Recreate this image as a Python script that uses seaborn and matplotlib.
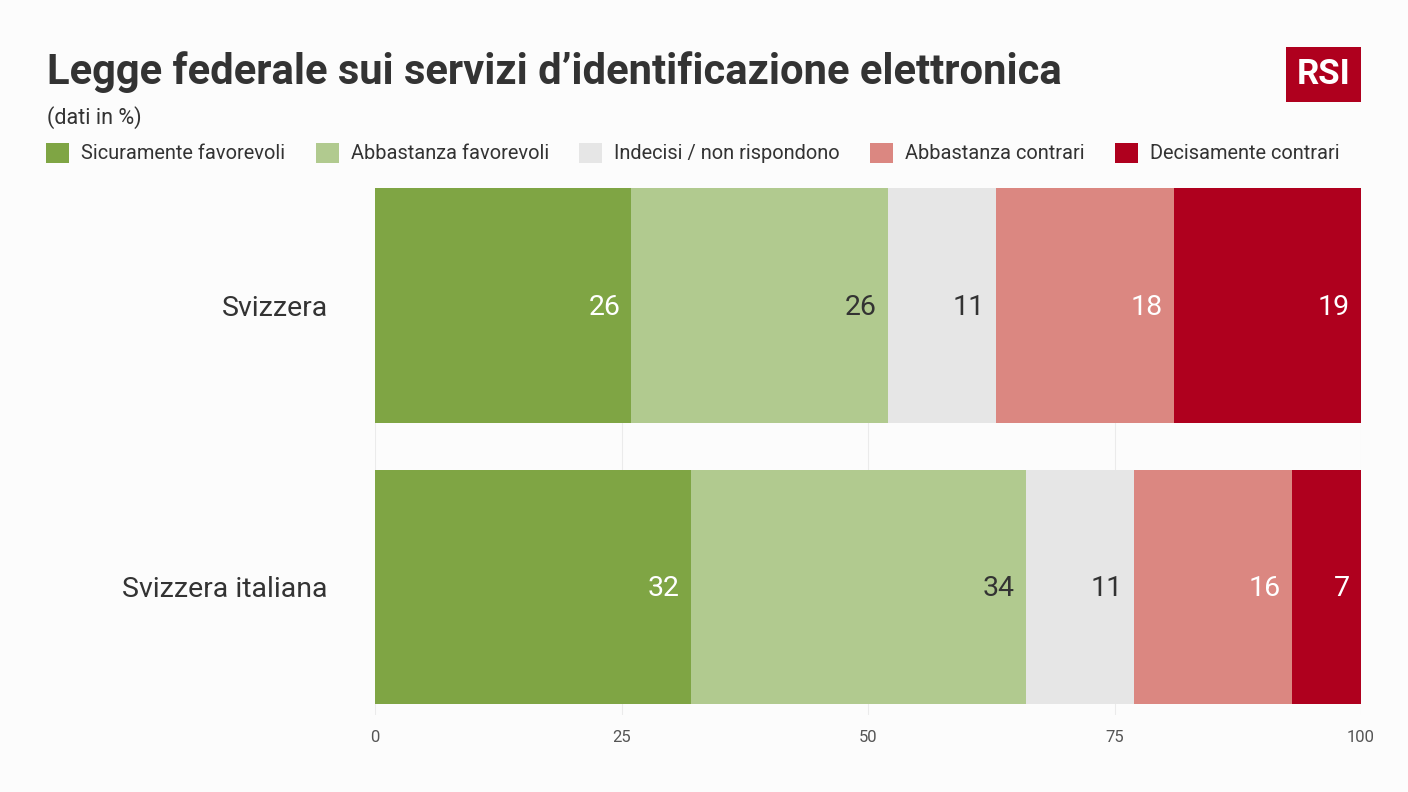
import pandas as pd
import numpy as np
import matplotlib.pyplot as plt
import seaborn as sns
from matplotlib.patches import Rectangle

# --- 1. Configuration & Setup ---
BG_COLOR = "#FCFCFC"
TEXT_COLOR = "#333333"

# Set visual style
sns.set_theme(style="whitegrid")
plt.rcParams['font.family'] = ['Roboto', 'DejaVu Sans']
plt.rcParams['figure.facecolor'] = BG_COLOR
plt.rcParams['axes.facecolor'] = BG_COLOR

# --- 2. Data ---
df = pd.DataFrame({
    'area': ['Svizzera', 'Svizzera italiana'],
    'Sicuramente favorevoli': [26, 32],
    'Abbastanza favorevoli': [26, 34],
    'Indecisi / non rispondono': [11, 11],
    'Abbastanza contrari': [18, 16],
    'Decisamente contrari': [19, 7],
})
answers = ['Sicuramente favorevoli', 'Abbastanza favorevoli', 'Indecisi / non rispondono',
           'Abbastanza contrari', 'Decisamente contrari']
colors = ['#7FA544', '#B1CA8F', '#E6E6E6', '#DB8781', '#AF001E']
label_colors = ['white', TEXT_COLOR, TEXT_COLOR, 'white', 'white']

# Running totals, the bars are drawn from the longest to the shortest
cum = df[answers].cumsum(axis=1)

# --- 3. Stacked Bars ---
plt.figure(figsize=(14.08, 7.92), dpi=100)
ax = plt.axes([375 / 1408, 1 - 715 / 792, 986 / 1408, 527 / 792])
for i in range(len(answers) - 1, -1, -1):
    sns.barplot(x=cum[answers[i]], y=df['area'], color=colors[i], width=0.833,
                saturation=1, label=answers[i], zorder=3, linewidth=0, legend=False, ax=ax)

# Values inside the bars
for i, answer in enumerate(answers):
    for j, value in enumerate(df[answer]):
        plt.annotate(str(value), (cum[answer][j], j), xytext=(-11, 1), textcoords='offset pixels',
                     ha='right', va='center_baseline', fontsize=20.5,
                     color=label_colors[i], zorder=4)

plt.xlim(0, 100)
plt.ylim(1.456, -0.417)
plt.xticks([0, 25, 50, 75, 100])
plt.yticks(va='center_baseline')
plt.xlabel('')
plt.ylabel('')
plt.grid(axis='y', visible=False)
plt.grid(axis='x', color='#EBEBEB', linewidth=0.8, zorder=0)
sns.despine(left=True, bottom=True)
plt.tick_params(axis='x', labelsize=12, labelcolor='#555555', pad=11, length=0)
plt.tick_params(axis='y', labelsize=20.5, labelcolor=TEXT_COLOR, pad=34, length=0)

# --- 4. Legend ---
handles, labels = ax.get_legend_handles_labels()
plt.figlegend(handles[::-1], labels[::-1], ncol=5, loc='center left',
              bbox_to_anchor=(28 / 1408, 1 - 153 / 792), frameon=False, fontsize=14.4,
              labelcolor=TEXT_COLOR, handlelength=1.15, handleheight=1.15,
              handletextpad=0.6, columnspacing=1.52)

# --- 5. Title & Logo ---
plt.figtext(47 / 1408, 1 - 72 / 792, 'Legge federale sui servizi d’identificazione elettronica',
            fontsize=30.1, fontweight='bold', color=TEXT_COLOR, va='center')
plt.figtext(47 / 1408, 1 - 118 / 792, '(dati in %)', fontsize=15.5,
            color=TEXT_COLOR, va='center')

fig = plt.gcf()
fig.add_artist(Rectangle((1286 / 1408, 1 - 102 / 792), 75 / 1408, 55 / 792,
                         transform=fig.transFigure, facecolor='#AF001E', edgecolor='none'))
plt.figtext(1323.5 / 1408, 1 - 74.5 / 792, 'RSI', fontsize=25, fontweight='bold', color='white',
            ha='center', va='center')

plt.savefig('out.png', dpi=100, facecolor=BG_COLOR)
